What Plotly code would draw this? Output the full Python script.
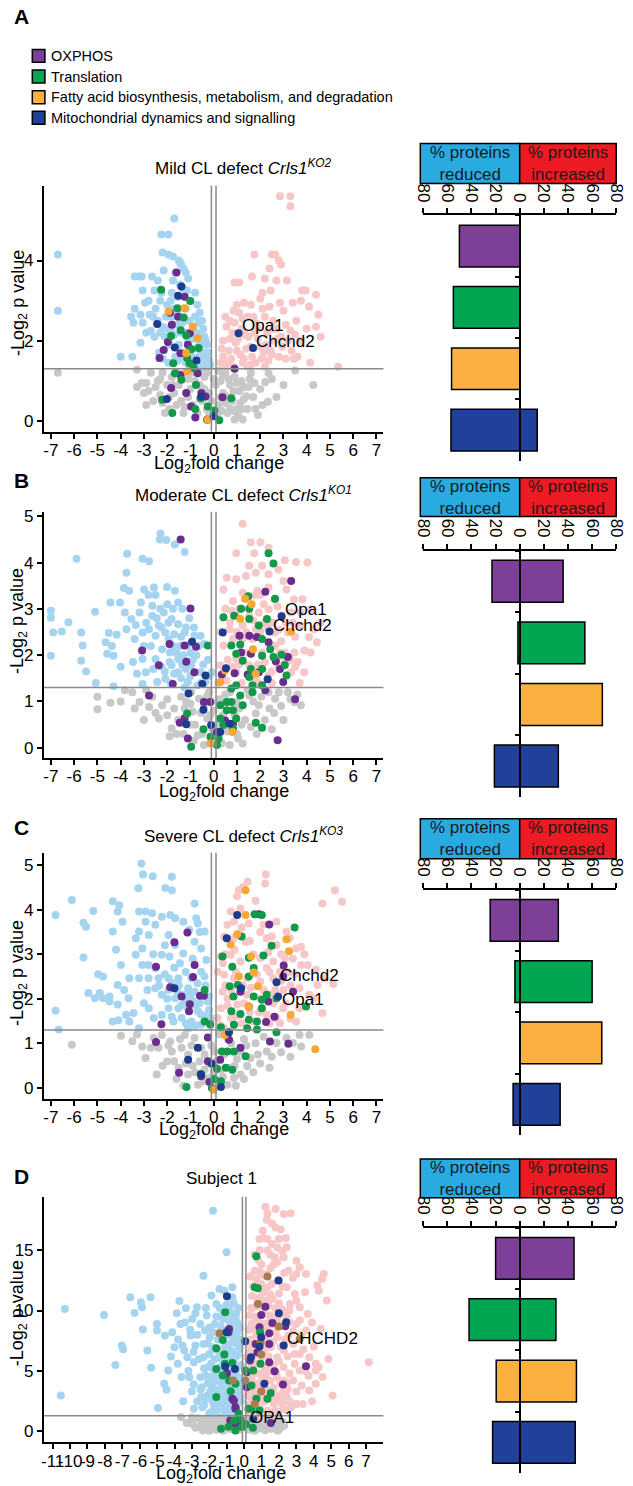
import plotly.graph_objects as go

# ---------------- data ----------------
categories = ["OXPHOS", "Translation",
              "Fatty acid biosynthesis, metabolism, and degradation",
              "Mitochondrial dynamics and signalling"]

# % proteins reduced / increased per category (OXPHOS, Translation, Fatty acid, Dynamics)
A_reduced = [50, 55, 56.5, 57]
A_increased = [0, 0, 0, 14.5]
B_reduced = [23, 1.5, 0, 21]
B_increased = [36, 54, 68.5, 32]
C_reduced = [24.5, 4, 0, 5.5]
C_increased = [32, 60, 68, 33.5]
D_reduced = [20, 42, 19.5, 22.5]
D_increased = [45, 30, 47, 46]

# volcano points: (log2 fold change, -log p)
A_gray = [(-6.7, 1.2), (-3.1, 0.95), (-3.3, 1.28), (-2.9, 0.95), (-2.8, 0.75), (-2.5, 0.85), (-2.3, 0.65),
          (-2.2, 0.45), (-2.1, 0.2), (-2.0, 0.9), (-1.8, 1.1), (-1.7, 0.7), (-1.6, 0.4), (-1.5, 0.9), (-1.2, 1.2),
          (-1.0, 0.8), (-0.8, 1.0), (-0.6, 0.9), (-0.5, 0.5), (-0.4, 1.1), (-0.3, 0.3), (-0.2, 0.7), (0.2, 0.4),
          (0.3, 1.0), (0.4, 0.7), (0.5, 1.2), (0.6, 0.2), (0.7, 0.9), (0.8, 0.5), (0.9, 1.1), (1.0, 0.3),
          (1.1, 0.75), (1.2, 1.0), (1.3, 0.55), (1.4, 0.62), (1.5, 0.85), (1.6, 1.2), (1.25, 0.04), (0.9, 0.04),
          (1.8, 0.3), (2.0, 0.8), (2.22, 0.97), (2.36, 1.19), (2.33, 0.48), (3.5, 1.26), (4.28, 0.9), (-2.9, 0.4),
          (-3.3, 0.85), (-2.6, 0.5), (-1.9, 0.6), (-1.3, 0.2), (0.1, 0.9), (0.5, 0.45), (1.7, 0.6), (-0.9, 0.4),
          (0.2, 1.25), (-1.1, 1.05), (0.7, 0.3), (-2.4, 1.0), (-2.2, 1.2), (-1.9, 0.3), (-1.4, 0.5), (-1.1, 0.6),
          (-0.7, 0.2), (-0.6, 0.55), (-0.4, 0.8), (-0.3, 1.2), (-0.1, 0.5), (0.0, 1.05), (0.15, 0.15), (0.35, 0.25),
          (0.4, 1.15), (0.6, 0.6), (0.65, 1.05), (0.85, 0.75), (1.0, 0.95), (1.05, 0.15), (1.15, 0.45), (1.3, 0.85),
          (1.45, 0.3), (1.55, 1.05), (1.75, 0.95), (1.9, 0.15), (2.1, 0.4), (2.5, 1.05), (2.7, 0.6), (3.0, 0.9),
          (-2.7, 1.2), (-3.0, 0.7), (-1.6, 1.2), (-1.75, 0.9), (-0.95, 1.2), (-0.2, 0.15), (0.9, 0.25), (0.3, 0.6),
          (-1.25, 0.35), (-2.3, 1.05), (1.2, 0.3)]
A_down = [(-6.7, 4.15), (-6.7, 2.75), (-1.7, 5.05), (-2.25, 4.65), (-1.95, 4.65), (-2.2, 4.2), (-1.95, 4.15),
          (-1.75, 4.1), (-1.5, 4.0), (-1.4, 3.9), (-1.3, 3.8), (-1.45, 3.95), (-1.2, 3.7), (-1.1, 3.55),
          (-3.4, 3.6), (-3.2, 3.6), (-3.1, 3.6), (-2.65, 3.6), (-2.15, 3.75), (-1.75, 3.5), (-3.05, 3.25),
          (-2.55, 3.25), (-2.25, 3.2), (-1.8, 3.2), (-1.3, 3.3), (-0.8, 3.2), (-3.4, 2.8), (-3.55, 2.6),
          (-3.15, 2.65), (-3.45, 2.45), (-3.05, 2.45), (-2.7, 2.25), (-2.2, 2.35), (-1.8, 2.6), (-1.2, 2.8),
          (-1.05, 2.5), (-0.8, 2.6), (-0.6, 2.7), (-0.5, 2.5), (-0.45, 2.3), (-0.4, 2.1), (-0.3, 1.9),
          (-0.25, 1.7), (-0.2, 1.5), (-0.6, 1.9), (-0.95, 1.6), (-0.75, 2.2), (-4.0, 1.6), (-3.5, 1.6),
          (-3.15, 1.95), (-2.5, 2.8), (-2.3, 3.0), (-2.0, 2.9), (-1.6, 2.4), (-1.4, 2.2), (-1.1, 2.0), (-0.9, 1.8),
          (-0.7, 1.5), (-0.5, 1.4), (-1.3, 1.7), (-2.1, 2.1), (-2.6, 2.6), (-1.9, 1.9), (-2.8, 3.0), (-2.4, 2.5),
          (-1.7, 2.8), (-1.0, 3.0), (-0.9, 2.3), (-0.35, 1.55), (-0.55, 1.75), (-0.15, 1.4), (-1.55, 1.5),
          (-2.35, 1.7), (-1.95, 1.45), (-1.7, 2.15), (-1.2, 1.45), (-0.65, 2.45), (-1.55, 3.1), (-1.65, 3.7),
          (-2.4, 3.5), (-2.9, 2.2), (-2.0, 2.3), (-1.85, 2.25), (-1.5, 1.9), (-1.25, 1.55), (-1.05, 1.75),
          (-0.85, 1.45), (-0.65, 1.6), (-0.45, 1.65), (-0.3, 1.35), (-0.85, 2.05), (-1.35, 2.45), (-1.55, 2.7),
          (-2.05, 2.6), (-2.3, 2.2), (-2.55, 2.1), (-2.75, 2.65), (-2.95, 2.95), (-1.45, 3.4), (-1.85, 3.0),
          (-1.15, 3.25), (-0.7, 2.9), (-0.55, 2.15), (-0.35, 2.0), (-1.2, 2.2), (-1.65, 1.6), (-2.2, 1.55),
          (-1.0, 1.35), (-0.6, 1.3)]
A_up = [(2.85, 5.6), (3.3, 5.6), (3.3, 5.35), (1.75, 4.15), (2.5, 4.15), (2.65, 4.15), (2.8, 4.0), (2.9, 3.9),
        (2.4, 3.8), (1.65, 3.6), (2.2, 3.55), (2.7, 3.5), (3.15, 3.5), (0.9, 3.45), (1.1, 3.45), (2.1, 3.2),
        (2.45, 3.25), (3.8, 3.25), (3.95, 3.25), (4.4, 3.15), (1.3, 2.95), (0.85, 2.75), (1.1, 2.7), (1.45, 2.6),
        (1.8, 2.45), (2.2, 2.6), (2.55, 2.5), (3.0, 2.75), (3.4, 2.95), (3.75, 3.0), (4.1, 2.85), (4.5, 2.65),
        (4.6, 2.1), (4.4, 2.35), (0.55, 2.35), (0.7, 2.05), (0.95, 1.95), (1.4, 1.8), (1.65, 1.6), (2.15, 1.7),
        (2.5, 1.65), (2.9, 2.1), (3.35, 1.75), (3.45, 1.55), (3.75, 2.0), (4.15, 1.45), (5.35, 1.35), (0.4, 1.6),
        (0.6, 1.45), (0.85, 1.35), (1.25, 1.45), (1.8, 1.45), (0.35, 1.8), (0.5, 2.6), (0.8, 2.2), (1.2, 2.3),
        (1.5, 2.1), (1.9, 2.05), (2.3, 2.2), (2.6, 2.0), (3.1, 2.4), (3.3, 2.25), (1.0, 1.75), (1.3, 1.55),
        (2.0, 1.85), (2.35, 1.5), (2.8, 1.6), (3.1, 1.55), (0.3, 1.45), (0.65, 1.75), (1.6, 2.9), (2.0, 3.05),
        (1.9, 2.3), (2.7, 2.3), (3.6, 1.6), (4.0, 2.3), (0.4, 2.0), (0.5, 1.35), (0.75, 1.55), (0.9, 2.45),
        (1.05, 2.05), (1.15, 1.65), (1.35, 2.15), (1.45, 1.35), (1.6, 1.85), (1.75, 2.2), (2.05, 1.55),
        (2.25, 1.9), (2.45, 1.75), (2.55, 2.3), (2.75, 2.05), (2.95, 1.85), (3.2, 2.0), (3.5, 2.15), (1.25, 2.55),
        (1.7, 2.6), (2.1, 2.8), (2.4, 2.85), (0.7, 2.5), (1.0, 2.9), (3.55, 2.5), (2.85, 2.95), (0.45, 1.4),
        (1.6, 1.4), (2.2, 1.35)]
A_oxphos = [(-1.6, 3.7), (-1.25, 3.1), (-1.88, 2.7), (-1.8, 2.4), (-1.97, 1.97), (-2.15, 1.77), (-2.33, 1.57),
            (-1.43, 1.69), (-1.11, 1.9), (-1.43, 1.15), (-0.69, 1.19), (-1.83, 0.82), (-1.18, 0.7), (-0.53, 0.7),
            (-0.35, 0.61), (-0.97, 0.36), (-0.28, 0.03), (-0.79, 0.09), (0.38, 0.59), (0.9, 1.3), (-1.53, 2.6),
            (-1.03, 2.19)]
A_transl = [(-2.26, 3.27), (-1.01, 2.99), (-1.56, 2.81), (-1.29, 2.58), (-1.42, 2.26), (-1.83, 2.12), (-1.18, 2.13),
            (-0.97, 1.79), (-1.74, 1.44), (-1.14, 1.57), (-0.86, 1.32), (-1.39, 1.03), (-1.67, 1.19), (-0.76, 0.9),
            (-0.56, 0.57), (-0.25, 0.36), (-0.79, 0.3), (-1.78, 0.2), (-2.22, 0.53), (0.76, 0.57), (0.24, 0.02),
            (0.03, 0.26), (-0.65, 1.82), (-1.04, 1.44)]
A_fatty = [(-1.94, 2.73), (-1.25, 2.81), (-0.9, 2.35), (-0.69, 2.06), (-1.18, 1.69), (-1.14, 1.24), (-0.25, 0.03)]
A_dyn = [(-1.39, 3.35), (-1.53, 3.12), (-2.43, 2.42), (-1.67, 1.83), (-0.74, 1.51), (-2.01, 0.55), (-0.53, 0.61),
         (0.0, 0.12), (1.07, 2.19), (1.69, 1.82)]
A_labels = [("Opa1", 1.11, 2.37), ("Chchd2", 1.74, 1.98)]

B_gray = [(-5.0, 1.1), (-5.0, 0.83), (-4.44, 0.97), (-3.82, 1.24), (-3.5, 1.2), (-3.19, 0.99), (-2.78, 0.88),
          (-2.64, 1.1), (-2.22, 0.92), (-2.36, 0.63), (-1.81, 0.42), (-1.53, 0.6), (-1.25, 0.85), (-0.9, 0.78),
          (-0.63, 1.06), (-0.42, 0.92), (-0.28, 0.63), (-0.07, 0.42), (-0.42, 0.06), (0.14, 0.17), (0.69, 0.06),
          (1.25, 0.09), (0.97, 0.99), (1.53, 1.13), (1.94, 0.92), (2.36, 1.2), (2.64, 1.06), (3.19, 1.2),
          (3.47, 0.99), (3.75, 0.92), (3.6, 1.15), (1.81, 0.74), (0.28, 0.49), (-0.69, 0.27), (-0.97, 1.2),
          (-1.18, 0.99), (-2.0, 0.7), (-1.6, 0.3), (-0.2, 1.2), (0.5, 1.15), (1.2, 0.5), (2.2, 0.6), (2.9, 0.9),
          (-3.0, 0.6), (-1.0, 0.5), (0.0, 0.8), (1.0, 0.3), (1.6, 0.45), (2.6, 0.75), (-4.0, 1.0), (-2.9, 1.25),
          (-2.5, 0.75), (-2.0, 1.05), (-1.7, 0.85), (-1.4, 1.1), (-1.3, 0.3), (-1.0, 0.95), (-0.8, 0.5),
          (-0.55, 0.75), (-0.5, 0.3), (-0.3, 1.1), (-0.15, 0.7), (0.05, 0.3), (0.25, 1.05), (0.4, 0.7), (0.6, 0.35),
          (0.7, 1.2), (0.9, 0.7), (1.05, 0.2), (1.1, 0.85), (1.35, 0.6), (1.45, 1.25), (1.7, 1.0), (1.85, 0.3),
          (2.05, 1.1), (2.4, 0.85), (2.5, 0.4), (2.8, 1.2), (3.0, 0.6), (3.3, 1.05), (-3.4, 0.85), (-0.85, 0.15),
          (0.35, 0.1), (-1.9, 0.25)]
B_down = [(-5.9, 4.08), (-7.0, 2.96), (-7.0, 2.81), (-6.53, 2.51), (-6.9, 2.49), (-6.25, 2.71), (-7.0, 1.99),
          (-5.7, 2.49), (-5.63, 2.21), (-5.7, 1.88), (-5.49, 1.65), (-5.1, 2.94), (-5.07, 1.4), (-4.44, 3.14),
          (-4.03, 3.14), (-4.51, 2.48), (-4.38, 2.2), (-4.31, 1.99), (-4.31, 1.33), (-3.72, 4.19), (-3.75, 3.78),
          (-3.86, 3.45), (-3.64, 3.39), (-3.06, 4.08), (-2.78, 4.03), (-2.99, 3.42), (-3.13, 3.14), (-3.19, 2.92),
          (-2.57, 3.46), (-2.29, 4.63), (-2.32, 4.5), (-2.04, 4.49), (-1.67, 4.39), (-1.25, 4.23), (-2.01, 3.47),
          (-1.67, 3.39), (-2.64, 2.85), (-2.15, 2.92), (-1.81, 2.78), (-1.53, 2.67), (-3.82, 2.92), (-3.54, 2.78),
          (-3.75, 2.56), (-3.4, 2.35), (-3.06, 2.49), (-2.78, 2.56), (-2.5, 2.42), (-2.08, 2.49), (-1.25, 2.49),
          (-0.83, 2.42), (-0.56, 2.42), (-0.42, 2.24), (-4.17, 2.44), (-4.65, 2.28), (-4.58, 2.03), (-3.47, 1.85),
          (-3.06, 1.92), (-2.92, 1.63), (-3.06, 1.38), (-2.5, 1.92), (-2.22, 2.13), (-1.88, 2.06), (-1.81, 1.78),
          (-1.53, 1.92), (-1.53, 1.63), (-1.11, 2.21), (-0.97, 1.78), (-0.56, 1.63), (-0.35, 1.42), (-2.08, 1.49),
          (-2.43, 1.42), (-1.11, 1.42), (-0.07, 1.63), (-1.94, 2.35), (-2.36, 2.64), (-1.53, 3.14), (-2.64, 3.07),
          (-2.9, 2.7), (-2.3, 3.0), (-1.75, 2.2), (-1.35, 1.8), (-1.7, 1.6), (-1.2, 2.6), (-0.75, 2.0),
          (-0.25, 1.9), (-2.7, 2.2), (-3.3, 1.6), (-4.0, 1.75), (-1.0, 1.55), (-2.25, 1.75), (-0.7, 1.35),
          (-1.85, 1.4), (-1.4, 2.4), (-1.0, 2.05), (-3.35, 2.65), (-2.0, 3.1), (-2.45, 2.8), (-2.25, 2.6),
          (-1.95, 2.7), (-1.7, 2.45), (-1.45, 2.2), (-1.3, 2.0), (-1.6, 2.05), (-1.9, 1.85), (-2.1, 1.65),
          (-1.4, 1.5), (-1.2, 1.7), (-0.9, 1.9), (-0.65, 2.2), (-0.45, 1.8), (-0.2, 1.55), (-0.85, 2.6),
          (-1.05, 2.8), (-1.35, 3.0), (-1.75, 3.0), (-2.5, 3.3), (-2.8, 3.3), (-3.0, 2.2), (-2.6, 1.7),
          (-1.25, 1.3), (-0.55, 1.4)]
B_up = [(1.25, 4.84), (1.6, 4.44), (2.01, 4.44), (0.97, 4.2), (1.74, 4.2), (2.36, 4.32), (3.06, 4.05), (1.53, 3.93),
        (2.08, 3.93), (2.78, 3.85), (3.54, 4.01), (4.03, 4.0), (0.56, 3.67), (0.97, 3.64), (1.39, 3.71),
        (1.81, 3.78), (2.36, 3.75), (0.42, 3.42), (1.25, 3.35), (1.88, 3.39), (2.36, 3.46), (3.13, 3.42),
        (3.82, 3.21), (0.83, 3.17), (0.76, 2.96), (0.97, 2.85), (1.53, 2.85), (1.94, 2.92), (2.36, 2.99),
        (2.92, 2.85), (3.33, 2.92), (3.75, 2.92), (4.17, 2.99), (3.75, 2.64), (4.31, 2.56), (4.44, 2.28),
        (4.1, 2.39), (4.17, 2.06), (3.47, 2.06), (3.06, 2.06), (2.64, 2.21), (2.08, 2.06), (1.67, 2.35),
        (1.25, 2.35), (0.83, 2.35), (0.42, 2.21), (0.28, 1.78), (0.42, 1.49), (0.97, 1.63), (1.53, 1.78),
        (1.81, 1.49), (2.36, 1.56), (2.78, 1.78), (3.33, 1.63), (3.89, 1.63), (3.61, 1.85), (0.97, 1.92),
        (0.69, 2.56), (1.25, 2.64), (1.81, 2.56), (2.64, 2.49), (3.19, 2.49), (3.5, 2.4), (2.6, 3.2), (3.0, 3.6),
        (1.6, 3.1), (2.2, 2.7), (2.9, 2.3), (3.3, 1.9), (3.7, 1.4), (2.5, 1.4), (1.2, 1.4), (0.6, 1.9), (0.3, 2.5),
        (1.9, 1.8), (3.9, 2.1), (2.0, 3.3), (1.1, 3.0), (2.7, 1.9), (4.6, 2.7), (0.2, 1.4), (0.5, 3.0), (0.7, 2.7),
        (1.0, 2.5), (1.4, 2.5), (1.7, 2.75), (2.0, 2.5), (2.3, 2.6), (2.55, 2.7), (2.8, 2.55), (3.1, 2.7),
        (3.4, 2.7), (1.1, 1.8), (1.35, 2.05), (1.6, 1.55), (2.2, 1.85), (2.5, 1.65), (2.85, 2.05), (3.1, 1.85),
        (3.5, 1.75), (0.55, 1.45), (0.8, 1.75), (1.9, 1.4), (2.15, 3.1), (2.75, 3.05), (3.45, 3.2), (1.8, 3.3)]
B_oxphos = [(-1.42, 4.5), (-1.0, 3.01), (-3.08, 2.1), (-1.9, 2.24), (-1.25, 2.21), (-0.76, 2.18), (-2.36, 1.78),
            (-1.18, 1.86), (-1.76, 1.38), (-0.83, 1.63), (-2.78, 1.13), (-0.42, 0.99), (-0.14, 0.99), (-1.46, 0.54),
            (-1.25, 0.64), (-1.11, 0.2), (0.35, 1.58), (0.49, 0.59), (2.22, 3.37), (3.33, 3.6), (1.11, 2.42),
            (1.53, 2.42), (1.18, 2.06), (1.85, 2.39), (2.36, 2.28), (1.6, 2.03), (1.46, 1.58), (0.9, 1.61),
            (1.94, 1.63), (2.67, 1.87), (2.85, 1.7), (2.99, 1.42), (2.22, 1.24), (3.19, 1.96), (3.5, 1.05),
            (2.75, 0.16), (0.83, 0.52), (0.14, 0.34)]
B_transl = [(-0.25, 2.21), (-1.14, 0.74), (-0.97, 0.02), (-0.44, 0.4), (-0.14, 0.24), (0.21, 0.2), (0.42, 2.82),
            (0.88, 2.85), (1.18, 3.0), (1.53, 3.0), (1.49, 3.27), (1.53, 2.78), (1.94, 2.64), (2.29, 2.78),
            (2.36, 4.2), (2.57, 3.98), (2.64, 3.22), (0.76, 2.21), (1.14, 2.23), (2.08, 2.35), (2.43, 2.13),
            (0.97, 2.03), (1.25, 1.88), (2.08, 1.99), (2.57, 1.96), (2.92, 2.01), (3.06, 1.79), (3.13, 1.56),
            (1.6, 1.7), (2.08, 1.7), (1.53, 1.53), (0.97, 1.35), (0.76, 1.28), (1.67, 1.35), (2.08, 1.35),
            (1.67, 1.2), (0.76, 0.99), (0.28, 0.92), (0.83, 0.81), (1.25, 0.92), (0.97, 0.63), (1.81, 0.54),
            (2.08, 0.43), (0.28, 0.63), (0.42, 0.49), (0.83, 0.42), (0.14, 0.06), (0.56, 0.81), (0.56, 0.99),
            (1.14, 1.13)]
B_fatty = [(1.35, 3.22), (1.63, 3.1), (1.14, 2.78), (1.69, 2.13), (0.49, 1.67), (0.28, 1.42), (1.81, 1.6),
           (3.33, 2.51), (0.81, 0.34), (-0.14, 0.09)]
B_dyn = [(0.39, 2.49), (0.53, 1.72), (-0.93, 2.29), (-0.35, 1.56), (-0.49, 1.38), (-1.08, 1.17), (-0.44, 0.82),
         (-1.18, 0.51), (0.69, 0.52), (-0.11, 0.49), (0.28, 0.34), (2.32, 1.48), (2.92, 2.84), (2.4, 2.51)]
B_labels = [("Opa1", 2.99, 2.99), ("Chchd2", 2.47, 2.64)]

C_gray = [(-6.1, 0.97), (-3.99, 1.17), (-3.07, 0.93), (-2.93, 0.67), (-2.58, 1.12), (-2.23, 1.19), (-1.87, 1.04),
          (-1.8, 0.82), (-1.38, 0.9), (-1.1, 0.75), (-0.82, 1.12), (-0.54, 0.9), (-0.39, 0.75), (-1.52, 0.45),
          (-1.1, 0.3), (-0.68, 0.07), (-0.25, 0.22), (-0.39, 0.41), (0.17, 0.15), (0.59, 0.07), (0.87, 0.22),
          (1.15, 0.3), (1.44, 0.49), (1.58, 0.67), (2.28, 0.82), (2.7, 1.01), (3.13, 1.12), (3.41, 1.01),
          (3.69, 1.19), (3.76, 0.93), (4.11, 1.19), (1.15, 0.82), (0.45, 0.75), (0.59, 1.12), (0.03, 0.82),
          (-1.24, 1.19), (-2.37, 0.9), (-2.0, 0.6), (-0.9, 0.5), (-0.2, 0.55), (0.3, 0.4), (1.8, 1.0), (2.0, 0.55),
          (2.5, 0.7), (-1.6, 0.2), (0.9, 0.5), (-3.3, 1.2), (1.3, 1.1), (-2.7, 0.9), (-2.2, 0.5), (-1.95, 0.95),
          (-1.7, 0.6), (-1.45, 1.1), (-1.2, 0.55), (-0.95, 0.95), (-0.8, 0.35), (-0.6, 0.6), (-0.45, 0.15),
          (-0.1, 0.95), (0.1, 0.6), (0.25, 1.2), (0.4, 0.25), (0.7, 0.45), (0.75, 1.0), (1.0, 0.65), (1.3, 0.2),
          (1.4, 0.95), (1.7, 0.35), (1.9, 0.75), (2.15, 1.15), (2.4, 0.45), (2.9, 0.8), (3.3, 0.7), (-3.5, 1.05),
          (-2.45, 0.3), (-1.3, 0.05), (0.0, 0.35), (0.95, 0.05)]
C_down = [(-6.8, 3.88), (-6.1, 4.22), (-6.8, 1.73), (-6.66, 1.31), (-5.6, 3.71), (-5.18, 3.97), (-5.49, 3.62),
          (-5.6, 2.93), (-4.97, 2.55), (-4.76, 2.5), (-5.39, 2.13), (-5.11, 2.01), (-4.9, 2.13), (-4.76, 2.01),
          (-4.48, 2.05), (-4.48, 1.94), (-4.34, 4.19), (-4.13, 3.96), (-4.34, 3.51), (-4.2, 3.1), (-3.99, 2.76),
          (-4.13, 2.31), (-3.63, 2.46), (-3.85, 2.2), (-3.66, 2.01), (-4.13, 1.87), (-4.34, 1.49), (-4.1, 1.52),
          (-3.77, 1.64), (-3.45, 1.68), (-4.06, 4.1), (-3.92, 3.73), (-3.24, 4.48), (-3.11, 5.04), (-3.04, 4.79),
          (-2.62, 4.75), (-2.08, 4.49), (-1.8, 4.74), (-1.8, 4.44), (-0.82, 4.14), (-3.21, 3.96), (-2.93, 3.96),
          (-2.65, 3.92), (-2.93, 3.73), (-3.21, 3.51), (-3.35, 3.36), (-2.79, 3.43), (-2.51, 3.66), (-2.23, 3.84),
          (-1.87, 3.88), (-1.66, 3.81), (-1.31, 3.73), (-0.75, 3.81), (-0.68, 3.69), (-0.39, 3.51), (-3.07, 3.13),
          (-3.35, 2.99), (-3.07, 2.76), (-2.8, 2.76), (-2.51, 2.69), (-2.23, 2.99), (-1.94, 3.43), (-1.66, 3.21),
          (-1.31, 3.02), (-0.82, 3.28), (-0.54, 3.13), (-0.32, 2.87), (-3.21, 2.46), (-2.8, 2.46), (-2.37, 2.46),
          (-1.94, 2.46), (-1.52, 2.46), (-0.96, 2.46), (-0.54, 2.61), (-2.51, 2.24), (-2.23, 2.09), (-1.94, 2.2),
          (-1.66, 2.01), (-1.31, 2.09), (-1.1, 2.24), (-0.82, 2.16), (-0.46, 2.09), (-0.25, 1.94), (-1.94, 1.79),
          (-1.52, 1.79), (-1.1, 1.79), (-0.68, 1.72), (-0.25, 1.64), (-0.11, 1.57), (-1.38, 1.57), (-0.96, 1.49),
          (-0.54, 1.42), (-1.73, 1.49), (-2.23, 1.64), (-2.79, 1.79), (-3.0, 1.9), (-3.21, 1.34), (-1.1, 1.34),
          (-3.63, 1.49), (-2.58, 1.57), (-1.7, 2.7), (-1.2, 2.6), (-0.9, 1.95), (-1.5, 2.3), (-2.0, 2.0),
          (-0.6, 1.9), (-0.35, 2.3), (-0.15, 1.4), (-2.1, 3.2), (-2.35, 2.3), (-2.1, 2.55), (-1.8, 2.35),
          (-1.55, 2.15), (-1.4, 1.85), (-1.2, 1.95), (-1.0, 2.1), (-0.75, 1.85), (-0.55, 1.65), (-0.35, 1.55),
          (-0.2, 1.75), (-0.7, 2.35), (-0.4, 2.5), (-1.8, 1.6), (-1.2, 1.45), (-0.8, 1.4), (-1.45, 2.8),
          (-1.9, 2.95), (-2.6, 3.0), (-0.9, 2.9), (-0.6, 3.5), (-1.05, 3.55), (-0.2, 2.05), (-2.85, 2.2)]
C_up = [(1.46, 4.63), (1.27, 4.51), (1.08, 4.44), (2.21, 4.59), (2.24, 4.79), (5.21, 4.44), (5.52, 4.18),
        (4.68, 4.14), (0.73, 3.96), (1.15, 4.03), (0.59, 3.66), (0.87, 3.73), (1.51, 3.69), (2.14, 3.66),
        (2.7, 3.73), (3.13, 3.51), (3.27, 3.36), (3.76, 3.17), (0.45, 3.4), (0.87, 3.36), (1.37, 3.28),
        (2.28, 3.36), (2.7, 3.21), (3.55, 3.13), (0.31, 2.95), (0.73, 2.99), (1.15, 2.84), (2.0, 2.91),
        (2.56, 2.84), (3.06, 2.91), (3.76, 2.76), (4.04, 2.76), (4.39, 2.65), (4.75, 2.46), (5.14, 2.33),
        (4.46, 2.31), (4.68, 1.68), (3.69, 2.24), (4.11, 2.09), (3.69, 1.79), (3.55, 1.49), (3.3, 1.55),
        (0.45, 2.54), (0.87, 2.46), (1.44, 2.46), (2.0, 2.39), (2.56, 2.46), (0.38, 2.16), (0.59, 2.01),
        (1.01, 1.87), (1.44, 2.09), (2.0, 2.01), (2.56, 1.9), (2.99, 1.79), (0.31, 1.79), (0.73, 1.57),
        (1.15, 1.64), (1.72, 1.49), (2.28, 1.64), (2.7, 1.57), (0.45, 1.34), (0.87, 1.42), (0.17, 1.57),
        (0.17, 2.61), (2.28, 2.69), (2.85, 2.61), (3.3, 2.3), (3.0, 2.2), (1.7, 3.0), (2.5, 3.4), (1.9, 3.9),
        (0.5, 3.0), (1.2, 3.6), (4.3, 2.0), (3.9, 3.0), (2.4, 2.1), (1.3, 1.9), (0.5, 2.3), (0.75, 2.2),
        (0.95, 2.6), (1.25, 2.3), (1.6, 2.25), (1.85, 2.55), (2.15, 2.2), (2.4, 2.6), (2.65, 2.2), (2.9, 2.4),
        (3.2, 2.6), (3.5, 2.55), (0.6, 1.85), (0.9, 1.6), (1.2, 1.45), (1.55, 1.7), (1.95, 1.7), (2.4, 1.45),
        (2.85, 1.45), (3.1, 1.9), (0.4, 2.8), (0.9, 3.1), (1.55, 3.3), (2.0, 3.5), (2.35, 3.05), (2.9, 3.0),
        (3.4, 2.9), (0.3, 1.4), (1.0, 4.3), (1.8, 4.2)]
C_oxphos = [(-1.13, 3.49), (-1.69, 3.27), (-2.48, 2.72), (-0.82, 2.76), (-0.89, 2.49), (-1.87, 2.26), (-1.38, 2.05),
            (-1.03, 1.88), (-1.06, 1.72), (-0.59, 2.07), (-0.42, 2.07), (-2.25, 1.43), (-2.48, 1.03), (-0.25, 1.13),
            (-1.49, 0.34), (-0.54, 0.26), (-0.25, 0.6), (0.28, 0.63), (0.66, 1.08), (1.15, 0.9), (1.96, 3.9),
            (2.39, 3.67), (1.15, 2.16), (1.51, 1.83), (2.35, 1.94), (2.25, 1.48), (2.61, 1.6), (3.01, 2.75),
            (2.99, 2.5), (3.41, 2.16), (2.42, 1.04), (3.21, 0.99), (-0.18, 0.13)]
C_transl = [(-0.39, 2.2), (-0.39, 1.49), (-0.15, 1.43), (0.31, 1.36), (0.38, 2.95), (0.8, 2.72), (1.2, 3.4),
            (1.72, 2.69), (2.14, 2.97), (2.49, 3.19), (3.48, 3.6), (1.76, 3.9), (2.07, 3.88), (0.69, 2.28),
            (1.04, 2.31), (1.51, 2.5), (0.85, 2.05), (1.72, 2.05), (2.07, 1.98), (2.28, 2.09), (2.7, 2.01),
            (0.76, 1.72), (1.15, 1.66), (1.51, 1.53), (1.86, 1.49), (2.07, 1.79), (0.87, 1.42), (1.44, 1.34),
            (1.86, 1.31), (2.7, 1.25), (3.97, 1.83), (0.35, 0.82), (0.59, 0.82), (0.87, 0.82), (1.37, 0.71),
            (0.14, 0.43), (0.52, 0.45), (0.8, 0.41), (-0.56, 0.31), (-1.17, 0.02), (0.03, 0.2), (0.31, 0.15),
            (-0.08, 0.0), (1.51, 2.92)]
C_fatty = [(1.37, 4.44), (1.37, 3.88), (1.01, 3.45), (0.73, 3.22), (1.61, 2.95), (3.13, 3.34), (3.24, 3.07),
           (1.08, 2.5), (1.72, 2.59), (1.9, 2.28), (1.51, 1.83), (3.31, 1.64), (4.37, 0.87), (0.48, 1.19),
           (0.0, -0.04)]
C_dyn = [(1.01, 3.88), (0.56, 3.36), (-1.69, 2.24), (1.18, 2.24), (2.7, 2.37), (2.77, 2.05), (-0.68, 0.9),
         (-1.1, 0.63), (-0.54, 0.3), (0.31, 0.02), (0.66, 1.25), (-0.08, 0.54)]
C_labels = [("Chchd2", 2.77, 2.52), ("Opa1", 2.85, 1.98)]

D_gray = [(-3.63, 1.18), (-2.98, 0.63), (-2.38, 0.08), (-1.79, 0.36), (-1.23, 0.22), (-0.68, 0.36), (-0.5, 0.1),
          (-0.31, 0.14), (0.24, 0.14), (0.79, 0.22), (1.34, 0.36), (1.9, 0.08), (1.99, 0.91), (-2.34, 0.77),
          (-1.6, 0.91), (-1.97, 0.5), (0.61, 0.77), (1.16, 0.63), (1.53, 0.22), (-1.42, 1.18), (-0.5, 1.05),
          (1.95, 0.08), (-2.7, 1.1), (-1.0, 0.6), (0.3, 1.1), (1.0, 1.0), (1.6, 0.9), (-2.0, 1.2), (0.0, 0.5),
          (-0.9, 0.95), (-1.6, 0.15), (1.2, 0.1), (2.3, 0.5), (-3.0, 1.15), (-2.6, 0.4), (-2.2, 1.0), (-1.9, 0.75),
          (-1.7, 1.1), (-1.35, 0.55), (-1.1, 0.9), (-0.8, 0.2), (-0.6, 0.7), (-0.4, 1.2), (-0.2, 0.35), (0.1, 0.85),
          (0.4, 0.45), (0.5, 1.2), (0.8, 0.5), (1.1, 1.15), (1.4, 0.7), (1.7, 0.45), (2.1, 0.3), (2.2, 0.8),
          (-2.0, 0.05), (-1.2, 0.05), (0.6, 0.05), (1.5, 1.2), (-3.3, 0.7), (-0.9, 1.25), (-2.8, 0.3), (-2.5, 1.0),
          (-2.3, 0.2), (-1.5, 0.6), (-0.3, 0.6), (0.2, 0.25), (0.7, 0.9), (0.9, 0.3), (1.3, 0.95), (1.8, 0.7),
          (2.0, 0.5), (-1.8, 0.55)]
D_down = [(-10.3, 10.13), (-10.53, 2.97), (-8.05, 9.63), (-7.4, 5.5), (-7.03, 7.1), (-6.95, 6.8), (-6.54, 11.09),
          (-6.3, 9.8), (-5.93, 10.68), (-5.87, 10.27), (-5.82, 8.42), (-5.56, 6.69), (-5.34, 5.26), (-5.38, 11.09),
          (-5.01, 8.89), (-5.01, 8.34), (-4.95, 1.95), (-4.55, 7.93), (-4.59, 3.94), (-4.46, 3.44), (-4.36, 5.04),
          (-4.13, 8.2), (-4.0, 6.96), (-3.87, 9.77), (-3.81, 5.59), (-3.72, 10.79), (-3.66, 8.89), (-3.54, 7.1),
          (-3.44, 6.69), (-3.35, 10.18), (-3.26, 6.14), (-3.15, 4.49), (-3.08, 7.93), (-2.98, 9.3), (-2.89, 5.73),
          (-2.8, 7.1), (-2.8, 9.77), (-2.71, 10.27), (-2.52, 8.89), (-2.52, 4.49), (-2.47, 2.84), (-2.34, 12.88),
          (-2.34, 6.14), (-2.25, 8.34), (-2.15, 9.58), (-2.06, 5.31), (-1.97, 3.94), (-1.88, 11.23), (-1.82, 6.96),
          (-1.79, 18.25), (-1.69, 8.89), (-1.6, 10.54), (-1.51, 6.69), (-1.42, 11.78), (-1.42, 4.21), (-1.33, 7.93),
          (-1.23, 9.3), (-1.23, 2.28), (-1.14, 11.64), (-1.05, 5.59), (-1.01, 14.81), (-0.87, 10.13),
          (-0.68, 11.92), (-0.5, 9.44), (-0.68, 7.79), (-0.5, 6.14), (-0.31, 4.49), (-0.41, 2.84), (-2.43, 3.66),
          (-1.97, 2.84), (-2.89, 1.87), (-1.79, 1.73), (-1.6, 3.39), (-2.34, 7.24), (-1.97, 7.79), (-1.42, 6.14),
          (-0.87, 7.24), (-0.77, 8.89), (-0.68, 11.09), (-0.5, 3.94), (-0.41, 2.28), (-3.6, 4.5), (-3.0, 3.3),
          (-2.6, 6.0), (-2.0, 6.4), (-1.7, 5.0), (-1.3, 4.9), (-1.0, 3.5), (-0.7, 2.0), (-0.3, 1.5), (-0.9, 6.0),
          (-1.2, 8.3), (-2.2, 10.2), (-1.6, 9.5), (-2.7, 8.0), (-3.4, 9.0), (-1.0, 10.5), (-0.4, 8.2), (-0.3, 6.8),
          (-0.2, 5.5), (-0.3, 3.2), (-0.2, 2.5), (-2.3, 2.2), (-2.1, 3.0), (-1.9, 4.5), (-1.8, 2.4), (-1.6, 4.2),
          (-1.5, 2.1), (-1.4, 3.0), (-1.3, 3.8), (-1.2, 2.6), (-1.1, 4.3), (-1.0, 1.8), (-0.95, 2.9), (-0.85, 3.8),
          (-0.8, 4.9), (-0.75, 2.4), (-0.6, 3.1), (-0.55, 4.4), (-0.45, 5.2), (-0.35, 3.7), (-0.25, 4.1),
          (-0.6, 5.9), (-0.7, 6.6), (-0.5, 7.3), (-0.3, 7.6), (-0.4, 9.0), (-0.35, 10.2), (-0.6, 10.6), (-1.1, 7.0),
          (-1.3, 6.5), (-1.5, 7.6), (-1.7, 6.0), (-1.9, 5.6), (-2.1, 4.0), (-2.3, 5.2), (-2.5, 3.5), (-2.7, 2.5),
          (-2.1, 7.3), (-1.8, 8.2), (-1.2, 9.8), (-0.9, 9.2), (-0.7, 8.5), (-0.25, 8.6), (-1.4, 5.3), (-1.0, 6.4),
          (-0.9, 4.5), (-1.6, 1.6), (-1.1, 1.5), (-0.6, 1.6), (-2.0, 1.5), (-2.9, 3.9), (-3.2, 5.0), (-2.9, 6.6),
          (-3.1, 8.4), (-3.8, 7.6), (-4.2, 6.2), (-3.5, 2.5), (-2.4, 2.0), (-2.2, 2.7), (-1.95, 3.3), (-1.7, 2.0),
          (-1.45, 2.5), (-1.3, 1.9), (-1.15, 3.3), (-0.9, 2.4), (-0.7, 2.9), (-0.55, 2.6), (-0.45, 1.9),
          (-0.25, 2.9), (-0.2, 3.7), (-0.5, 4.8), (-0.65, 4.0), (-0.95, 5.1), (-1.15, 4.6), (-1.5, 4.6),
          (-1.8, 3.7), (-2.2, 4.6), (-0.4, 6.3), (-0.8, 6.7), (-1.2, 5.8), (-1.65, 6.8), (-0.25, 7.1), (-0.55, 8.0),
          (-1.05, 8.0), (-1.35, 8.7), (-0.45, 9.8), (-0.8, 9.8), (-1.4, 10.2), (-2.0, 8.6)]
D_up = [(1.22, 18.58), (1.34, 18.03), (1.8, 18.39), (2.27, 17.97), (2.67, 18.03), (1.8, 16.87), (1.07, 16.6),
        (1.34, 15.91), (0.88, 15.91), (1.99, 15.91), (2.45, 15.22), (1.34, 14.95), (1.75, 14.4), (2.27, 14.4),
        (3.0, 14.12), (3.19, 13.57), (3.0, 13.02), (2.54, 13.29), (3.55, 13.02), (4.57, 13.02), (4.48, 12.61),
        (4.2, 12.06), (4.29, 11.64), (4.75, 10.82), (0.61, 13.29), (0.98, 12.19), (0.88, 11.09), (1.34, 11.92),
        (1.62, 10.96), (2.45, 11.92), (2.91, 11.37), (2.63, 10.54), (3.19, 10.27), (3.65, 9.72), (2.45, 9.44),
        (3.0, 8.89), (3.55, 8.34), (0.61, 10.27), (0.42, 8.89), (0.88, 7.93), (0.24, 7.24), (0.15, 6.14),
        (0.42, 5.31), (0.33, 3.94), (0.39, 2.84), (0.79, 2.28), (0.61, 1.73), (1.16, 3.39), (1.34, 5.31),
        (1.53, 6.96), (1.9, 7.79), (2.27, 6.69), (2.82, 7.24), (3.19, 6.41), (3.74, 6.14), (4.11, 5.59),
        (3.19, 5.04), (2.82, 4.21), (2.08, 3.94), (2.45, 2.84), (3.0, 2.28), (3.37, 2.28), (4.11, 5.04),
        (4.29, 5.31), (4.84, 6.0), (5.08, 2.97), (7.16, 5.73), (1.8, 1.73), (1.34, 1.73), (0.98, 1.32),
        (2.27, 5.31), (1.9, 4.49), (1.62, 8.89), (2.17, 10.13), (1.16, 9.72), (1.9, 6.14), (2.54, 7.93),
        (3.74, 3.39), (4.11, 3.94), (1.9, 9.44), (0.98, 6.14), (1.07, 8.89), (0.61, 3.94), (0.5, 12.0),
        (1.5, 13.5), (2.0, 12.5), (1.2, 10.8), (0.6, 9.5), (2.6, 9.0), (3.3, 8.0), (1.5, 4.2), (2.5, 3.5),
        (3.3, 3.8), (0.3, 5.0), (0.2, 3.0), (1.2, 2.5), (2.2, 2.2), (0.8, 14.2), (2.4, 16.0), (1.6, 17.2),
        (4.0, 7.0), (3.7, 4.6), (0.7, 6.8), (1.3, 7.6), (0.3, 1.5), (0.5, 2.2), (0.7, 1.4), (0.9, 2.0), (1.1, 1.6),
        (1.5, 1.5), (1.7, 2.3), (2.0, 1.6), (2.4, 1.8), (2.7, 2.0), (0.4, 4.4), (0.6, 4.8), (0.8, 3.6), (1.0, 4.2),
        (1.3, 3.0), (1.7, 3.6), (2.0, 3.0), (2.3, 4.2), (2.6, 4.8), (2.9, 5.6), (0.5, 6.2), (0.8, 5.6), (1.1, 6.4),
        (1.4, 6.2), (1.7, 5.5), (2.0, 5.8), (2.5, 6.2), (2.9, 6.4), (3.4, 6.8), (0.4, 7.6), (0.7, 8.0), (1.3, 8.6),
        (1.8, 8.2), (2.2, 8.8), (2.8, 8.3), (3.2, 9.2), (0.4, 10.2), (0.8, 10.8), (1.5, 9.6), (2.0, 10.6),
        (2.6, 10.0), (3.0, 10.8), (0.7, 12.6), (1.1, 12.9), (1.6, 12.2), (2.3, 13.1), (2.8, 12.7), (1.0, 13.8),
        (1.9, 14.0), (0.9, 15.0), (1.6, 15.5), (2.1, 16.7), (1.3, 17.5), (3.5, 11.5), (3.9, 9.0), (4.4, 8.5),
        (3.0, 3.3), (3.5, 5.0), (4.5, 4.5), (3.9, 2.5), (2.6, 2.5), (0.25, 2.2), (0.45, 3.4), (0.55, 2.6),
        (0.75, 3.1), (0.95, 2.7), (1.05, 3.7), (1.25, 4.6), (1.45, 3.4), (1.6, 2.8), (1.85, 2.6), (2.1, 2.5),
        (2.25, 3.3), (2.45, 4.0), (1.85, 4.8), (1.55, 5.0), (1.2, 5.2), (0.9, 4.8), (0.65, 5.6), (0.35, 6.6),
        (0.55, 7.0), (1.0, 7.2), (1.25, 6.9), (1.65, 7.4), (2.1, 7.0), (2.35, 7.6), (0.25, 8.4), (0.55, 8.5),
        (1.0, 8.0), (1.4, 9.0), (1.9, 9.0), (2.3, 9.6), (0.3, 9.6), (0.75, 9.2), (1.0, 10.3), (1.4, 10.4),
        (1.8, 10.2), (0.45, 11.2), (1.1, 11.5), (1.5, 11.3), (2.0, 11.4), (2.2, 12.0), (0.35, 12.8), (0.9, 13.2),
        (1.3, 13.0), (1.7, 13.8), (2.2, 14.9), (1.5, 14.6), (0.6, 14.6), (1.1, 16.0), (1.9, 15.2)]
D_oxphos = [(-0.87, 8.48), (-0.9, 8.2), (-0.99, 4.82), (-0.68, 2.7), (-0.5, 2.01), (-0.31, 0.91), (-0.8, 0.9),
            (-0.5, 0.6), (1.22, 10.32), (0.98, 9.63), (1.62, 8.97), (0.88, 8.62), (1.44, 8.12), (2.36, 8.7),
            (0.66, 7.24), (1.44, 7.24), (0.76, 6.55), (0.33, 5.86), (1.44, 5.73), (1.75, 4.98), (0.15, 4.9),
            (2.23, 3.88), (0.15, 3.66), (3.55, 5.4), (-0.59, 2.56), (-0.5, 1.87), (1.53, 0.69), (-0.41, 0.63)]
D_transl = [(-1.09, 9.85), (-1.23, 7.57), (-1.6, 6.88), (-1.14, 6.36), (-1.1, 5.6), (-0.68, 5.67), (-1.6, 5.17),
            (-1.23, 4.62), (-0.87, 4.21), (-0.5, 3.94), (-1.6, 2.84), (-0.77, 3.33), (-1.33, 0.22), (0.7, 14.48),
            (0.61, 11.92), (0.79, 11.84), (0.92, 8.2), (0.52, 5.04), (0.94, 5.59), (0.42, 3.8), (0.7, 2.7),
            (1.34, 2.7), (0.24, 1.87), (0.88, 1.73), (-0.31, 1.46), (-0.59, 0.91), (-0.13, 0.36), (-0.5, 0.08),
            (0.42, 1.87), (1.53, 3.17), (0.06, 5.04), (-0.2, 1.0), (0.1, 0.6), (0.5, 0.3), (-0.9, 0.4)]
D_fatty = [(1.34, 12.8), (0.79, 10.54), (1.99, 8.67), (0.94, 7.38), (0.98, 6.36), (0.06, 4.21), (0.98, 3.3),
           (3.19, 7.65), (-1.42, 8.12), (-0.64, 4.21), (0.61, 2.28)]
D_dyn = [(-0.99, 11.18), (0.06, 7.46), (1.97, 12.47), (1.99, 9.77), (2.41, 9.03), (2.27, 7.1), (0.88, 7.02),
         (0.39, 6.14), (-0.53, 5.17), (1.16, 3.94), (0.52, 1.05), (-1.01, 8.2), (-1.09, 5.37), (0.98, 7.79)]
D_labels = [("CHCHD2", 2.36, 7.65), ("OPA1", 0.24, 1.18)]

P_CUTOFF = 1.3

# ---------------- styling / layout helpers ----------------
W, H = 633, 1486
FONT = "Liberation Sans, Arial, Helvetica, sans-serif"
C_GRAY, C_DOWN, C_UP = "#c8c8c8", "#a5d4f1", "#f7c7c8"
DOT = {"ox": "#6a2c8e", "tr": "#12994a", "fa": "#f5a833", "dyn": "#1d3c8d"}
BAR = ["#7e3f98", "#00a651", "#fbb040", "#21409a"]


def px(x):
    return x / W


def py(y):
    return 1 - y / H


def ax_names(i):
    s = "" if i == 1 else str(i)
    return f"x{s}", f"y{s}", f"xaxis{s}", f"yaxis{s}"


volcanos = [
    dict(title="Mild CL defect <i>Crls1<sup>KO2</sup></i>", title_xy=(241, 163), letter=("A", 12, 13),
         top=182, bottom=429, yr=[-0.27, 5.87], yt=[0, 2, 4], xr=[-7.3, 7.3], xt=list(range(-7, 8)), vx=0.1,
         ytitle_y=300, xtitle_xy=(215, 462),
         pts=[A_gray, A_down, A_up, A_oxphos, A_transl, A_fatty, A_dyn], labels=A_labels, fatty="#f5a833"),
    dict(title="Moderate CL defect <i>Crls1<sup>KO1</sup></i>", title_xy=(241, 491), letter=("B", 12, 478),
         top=509, bottom=756, yr=[-0.22, 5.1], yt=[0, 1, 2, 3, 4, 5], xr=[-7.3, 7.3], xt=list(range(-7, 8)),
         vx=0.1, ytitle_y=619, xtitle_xy=(221, 791),
         pts=[B_gray, B_down, B_up, B_oxphos, B_transl, B_fatty, B_dyn], labels=B_labels, fatty="#f5a833"),
    dict(title="Severe CL defect <i>Crls1<sup>KO3</sup></i>", title_xy=(241, 833), letter=("C", 12, 826),
         top=851, bottom=1098, yr=[-0.25, 5.28], yt=[0, 1, 2, 3, 4, 5], xr=[-7.3, 7.3], xt=list(range(-7, 8)),
         vx=0.1, ytitle_y=972, xtitle_xy=(221, 1130),
         pts=[C_gray, C_down, C_up, C_oxphos, C_transl, C_fatty, C_dyn], labels=C_labels, fatty="#f5a833"),
    dict(title="Subject 1", title_xy=(218, 1178), letter=("D", 12, 1176),
         top=1196, bottom=1442, yr=[-0.88, 19.4], yt=[0, 5, 10, 15], xr=[-11.5, 8.0], xt=list(range(-11, 8)),
         vx=0.1, ytitle_y=1313, xtitle_xy=(218, 1474),
         pts=[D_gray, D_down, D_up, D_oxphos, D_transl, D_fatty, D_dyn], labels=D_labels, fatty="#a87d50"),
]

bars = [
    dict(red=A_reduced, inc=A_increased, box=(140, 180), top=212, bottom=458),
    dict(red=B_reduced, inc=B_increased, box=(475, 514), top=548, bottom=795),
    dict(red=C_reduced, inc=C_increased, box=(817, 857), top=888, bottom=1134),
    dict(red=D_reduced, inc=D_increased, box=(1158, 1197), top=1227, bottom=1473),
]

fig = go.Figure()
layout = {}
shapes = []
annotations = []

axis_common = dict(showline=True, linecolor="black", linewidth=2, ticks="outside", ticklen=5, tickwidth=1.5,
                   tickcolor="black", showgrid=False, zeroline=False, tickfont=dict(size=17, color="black"))

for i, v in enumerate(volcanos, start=1):
    xa, ya, xk, yk = ax_names(i)
    # plain hyphen-minus labels, as in the original figure
    layout[xk] = dict(domain=[px(35), px(385)], range=v["xr"], tickvals=v["xt"],
                      ticktext=[str(t) for t in v["xt"]], tickangle=0, ticklabelstandoff=-3,
                      anchor=ya, **axis_common)
    layout[yk] = dict(domain=[py(v["bottom"]), py(v["top"])], range=v["yr"], tickvals=v["yt"],
                      ticktext=[str(t) for t in v["yt"]], anchor=xa, **axis_common)
    colors = [C_GRAY, C_DOWN, C_UP, DOT["ox"], DOT["tr"], v["fatty"], DOT["dyn"]]
    for grp, col in zip(v["pts"], colors):
        fig.add_trace(go.Scatter(x=[p[0] for p in grp], y=[p[1] for p in grp], mode="markers",
                                 marker=dict(size=8, color=col, line=dict(width=0)),
                                 xaxis=xa, yaxis=ya, showlegend=False, hoverinfo="skip"))
    # threshold lines
    for xv in (-v["vx"], v["vx"]):
        shapes.append(dict(type="line", xref=xa, yref=f"{ya} domain", x0=xv, x1=xv, y0=0, y1=1,
                           line=dict(color="#8a8a8a", width=1.5)))
    shapes.append(dict(type="line", xref=f"{xa} domain", yref=ya, x0=0, x1=1, y0=P_CUTOFF, y1=P_CUTOFF,
                       line=dict(color="#8a8a8a", width=1.5)))
    for name, lx, ly in v["labels"]:
        annotations.append(dict(text=name, x=lx, y=ly, xref=xa, yref=ya, xanchor="left", yanchor="middle",
                                showarrow=False, font=dict(size=17, color="black")))
    annotations.append(dict(text=v["title"], x=px(v["title_xy"][0]), y=py(v["title_xy"][1]), xref="paper",
                            yref="paper", showarrow=False, xanchor="center", yanchor="middle",
                            font=dict(size=17, color="black")))
    annotations.append(dict(text="Log<sub>2</sub>fold change", x=px(v["xtitle_xy"][0]), y=py(v["xtitle_xy"][1]),
                            xref="paper", yref="paper", showarrow=False, xanchor="center", yanchor="middle",
                            font=dict(size=18, color="black")))
    annotations.append(dict(text="-Log<sub>2</sub> p value", x=px(9), y=py(v["ytitle_y"]), xref="paper",
                            yref="paper", showarrow=False, textangle=-90, xanchor="center", yanchor="middle",
                            font=dict(size=18, color="black")))
    L, lx, ly = v["letter"]
    annotations.append(dict(text=f"<b>{L}</b>", x=px(lx), y=py(ly), xref="paper", yref="paper",
                            showarrow=False, xanchor="center", yanchor="middle",
                            font=dict(size=21, color="black")))

ZERO_PX = 525.5
for j, b in enumerate(bars, start=5):
    xa, ya, xk, yk = ax_names(j)
    layout[xk] = dict(domain=[px(426), px(625)], range=[-80, 80], side="top", anchor=ya,
                      tickvals=[-80, -60, -40, -20, 0, 20, 40, 60, 80],
                      ticktext=["80", "60", "40", "20", "0", "20", "40", "60", "80"],
                      tickangle=90, ticklabeloverflow="allow", showline=True, linecolor="black", linewidth=2,
                      ticks="outside", ticklen=5, tickwidth=1.5, tickcolor="black", showgrid=False,
                      zeroline=False, tickfont=dict(size=17, color="black"))
    layout[yk] = dict(domain=[py(b["bottom"]), py(b["top"])], type="category",
                      categoryorder="array", categoryarray=categories, autorange="reversed",
                      anchor="free", position=px(ZERO_PX),
                      showline=True, linecolor="black", linewidth=2, ticks="outside", ticklen=4,
                      tickwidth=1.5, tickcolor="black", tickson="boundaries", showticklabels=False,
                      showgrid=False, zeroline=False)
    fig.add_trace(go.Bar(y=categories, x=[-r for r in b["red"]], orientation="h", width=0.68, base=0,
                         marker=dict(color=BAR, line=dict(color="black", width=1.5)),
                         xaxis=xa, yaxis=ya, showlegend=False, hoverinfo="skip"))
    fig.add_trace(go.Bar(y=categories, x=b["inc"], orientation="h", width=0.68, base=0,
                         marker=dict(color=BAR, line=dict(color="black", width=1.5)),
                         xaxis=xa, yaxis=ya, showlegend=False, hoverinfo="skip"))
    y0, y1 = b["box"]
    shapes.append(dict(type="rect", xref="paper", yref="paper", x0=px(423), x1=px(ZERO_PX), y0=py(y1), y1=py(y0),
                       fillcolor="#29abe2", line=dict(color="black", width=1.5)))
    shapes.append(dict(type="rect", xref="paper", yref="paper", x0=px(ZERO_PX), x1=px(625), y0=py(y1), y1=py(y0),
                       fillcolor="#ed1c24", line=dict(color="black", width=1.5)))
    annotations.append(dict(text="% proteins<br>reduced", x=px((423 + ZERO_PX) / 2), y=py((y0 + y1) / 2),
                            xref="paper", yref="paper", showarrow=False, xanchor="center", yanchor="middle",
                            font=dict(size=17, color="#1a1a1a")))
    annotations.append(dict(text="% proteins<br>increased", x=px((ZERO_PX + 625) / 2), y=py((y0 + y1) / 2),
                            xref="paper", yref="paper", showarrow=False, xanchor="center", yanchor="middle",
                            font=dict(size=17, color="#1a1a1a")))

# legend at the top
for k, (cat, col) in enumerate(zip(categories, BAR)):
    yc = 52 + k * 20.7
    shapes.append(dict(type="rect", xref="paper", yref="paper", x0=px(23), x1=px(36), y0=py(yc + 6.5),
                       y1=py(yc - 6.5), fillcolor=col, line=dict(color="black", width=1.5)))
    annotations.append(dict(text=cat, x=px(40), y=py(yc), xref="paper", yref="paper", showarrow=False,
                            xanchor="left", yanchor="middle", font=dict(size=14.5, color="black")))

fig.update_layout(width=W, height=H, margin=dict(l=0, r=0, t=0, b=0), paper_bgcolor="white",
                  plot_bgcolor="white", font=dict(family=FONT, color="black"), barmode="overlay",
                  shapes=shapes, annotations=annotations, **layout)

# the page's default body margin would push the fixed-size figure off its pixel grid
fig.write_html("out.html", config={"displayModeBar": False},
               post_script="document.body.style.margin='0';")
